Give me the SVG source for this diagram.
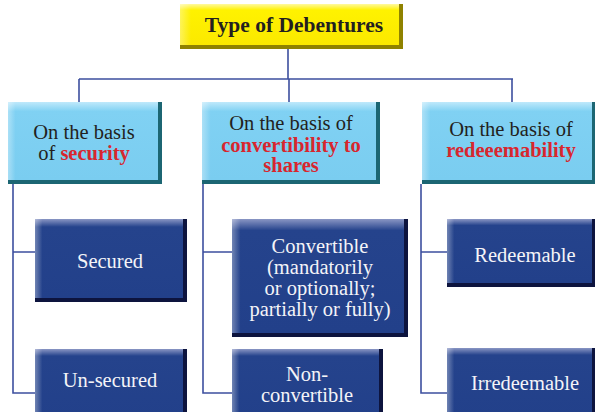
<svg xmlns="http://www.w3.org/2000/svg" width="595" height="412" viewBox="0 0 595 412">
<style>
text{font-family:'Liberation Serif','Times New Roman','DejaVu Serif',serif;text-anchor:middle}
.t{font-size:21.5px;font-weight:bold;fill:#231f20}
.c{font-size:20.5px;fill:#231f20}
.r{font-weight:bold;fill:#d8262e}
.w{font-size:20.5px;fill:#f4f4f8}
.conn{fill:none;stroke:#3d4f9f;stroke-width:1.6}
.yb{fill:#8f8200}.yf{fill:url(#gy)}
.lb{fill:#1c6673}.lf{fill:url(#gl)}
.db{fill:#0d143e}.df{fill:url(#gd)}
.hl{fill:url(#gh)}
</style>
<defs>
<linearGradient id="gy" x1="0" y1="0" x2="0" y2="1"><stop offset="0" stop-color="#fff9a0"/><stop offset="0.15" stop-color="#fff200"/><stop offset="1" stop-color="#fbe900"/></linearGradient>
<linearGradient id="gl" x1="0" y1="0" x2="0" y2="1"><stop offset="0" stop-color="#bfe9fb"/><stop offset="0.12" stop-color="#80d1f3"/><stop offset="1" stop-color="#7acdf0"/></linearGradient>
<linearGradient id="gd" x1="0" y1="0" x2="0" y2="1"><stop offset="0" stop-color="#8a96c4"/><stop offset="0.1" stop-color="#25438c"/><stop offset="1" stop-color="#22408a"/></linearGradient>
<linearGradient id="gh" x1="0" y1="0" x2="1" y2="0"><stop offset="0" stop-color="#ffffff" stop-opacity="0.35"/><stop offset="0.05" stop-color="#ffffff" stop-opacity="0"/></linearGradient>
</defs>
<g id="connectors">
<path class="conn" d="M288 49V79M79 79H513M79 79V102M289 79V102M512 79V102"/>
<path class="conn" d="M13 184V393H35M13 252H35"/>
<path class="conn" d="M203 184V393H232M203 252H232"/>
<path class="conn" d="M421 184V393H447M421 252H447"/>
</g>
<g font-family="Liberation Serif, Times New Roman, DejaVu Serif, serif">
<g id="title">
<rect class="yb" x="180" y="4" width="223" height="45"/>
<rect class="yf" x="180" y="4" width="219" height="41"/>
<rect class="hl" x="180" y="4" width="219" height="41"/>
<text class="t" x="294" y="32">Type of Debentures</text>
</g>
<g id="security">
<rect class="lb" x="8" y="102" width="154" height="82"/>
<rect class="lf" x="8" y="102" width="150" height="78"/>
<rect class="hl" x="8" y="102" width="150" height="78"/>
<text class="c" x="84" y="139">On the basis</text>
<text class="c" x="84" y="160">of <tspan class="r">security</tspan></text>
</g>
<g id="convertibility">
<rect class="lb" x="202" y="102" width="178" height="82"/>
<rect class="lf" x="202" y="102" width="174" height="78"/>
<rect class="hl" x="202" y="102" width="174" height="78"/>
<text class="c" x="291" y="130">On the basis of</text>
<text class="c r" x="291" y="152">convertibility to</text>
<text class="c r" x="291" y="172">shares</text>
</g>
<g id="redeemability">
<rect class="lb" x="422" y="102" width="173" height="82"/>
<rect class="lf" x="422" y="102" width="170" height="78"/>
<rect class="hl" x="422" y="102" width="170" height="78"/>
<text class="c" x="511" y="136">On the basis of</text>
<text class="c r" x="511" y="157">redeeemability</text>
</g>
<g id="secured">
<rect class="db" x="35" y="219" width="152" height="83"/>
<rect class="df" x="35" y="219" width="148" height="79"/>
<rect class="hl" x="35" y="219" width="148" height="79"/>
<text class="w" x="110" y="268">Secured</text>
</g>
<g id="unsecured">
<rect class="db" x="35" y="349" width="152" height="70"/>
<rect class="df" x="35" y="349" width="148" height="70"/>
<rect class="hl" x="35" y="349" width="148" height="70"/>
<text class="w" x="110" y="387">Un-secured</text>
</g>
<g id="convertible">
<rect class="db" x="232" y="219" width="176" height="118"/>
<rect class="df" x="232" y="219" width="172" height="114"/>
<rect class="hl" x="232" y="219" width="172" height="114"/>
<text class="w" x="320" y="253">Convertible</text>
<text class="w" x="320" y="274">(mandatorily</text>
<text class="w" x="320" y="295">or optionally;</text>
<text class="w" x="320" y="316">partially or fully)</text>
</g>
<g id="nonconvertible">
<rect class="db" x="232" y="349" width="151" height="70"/>
<rect class="df" x="232" y="349" width="147" height="70"/>
<rect class="hl" x="232" y="349" width="147" height="70"/>
<text class="w" x="307" y="381">Non-</text>
<text class="w" x="307" y="402">convertible</text>
</g>
<g id="redeemable">
<rect class="db" x="447" y="219" width="148" height="68"/>
<rect class="df" x="447" y="219" width="145" height="64"/>
<rect class="hl" x="447" y="219" width="145" height="64"/>
<text class="w" x="525" y="262">Redeemable</text>
</g>
<g id="irredeemable">
<rect class="db" x="447" y="348" width="148" height="70"/>
<rect class="df" x="447" y="348" width="145" height="70"/>
<rect class="hl" x="447" y="348" width="145" height="70"/>
<text class="w" x="525" y="390">Irredeemable</text>
</g>
</g>
</svg>
